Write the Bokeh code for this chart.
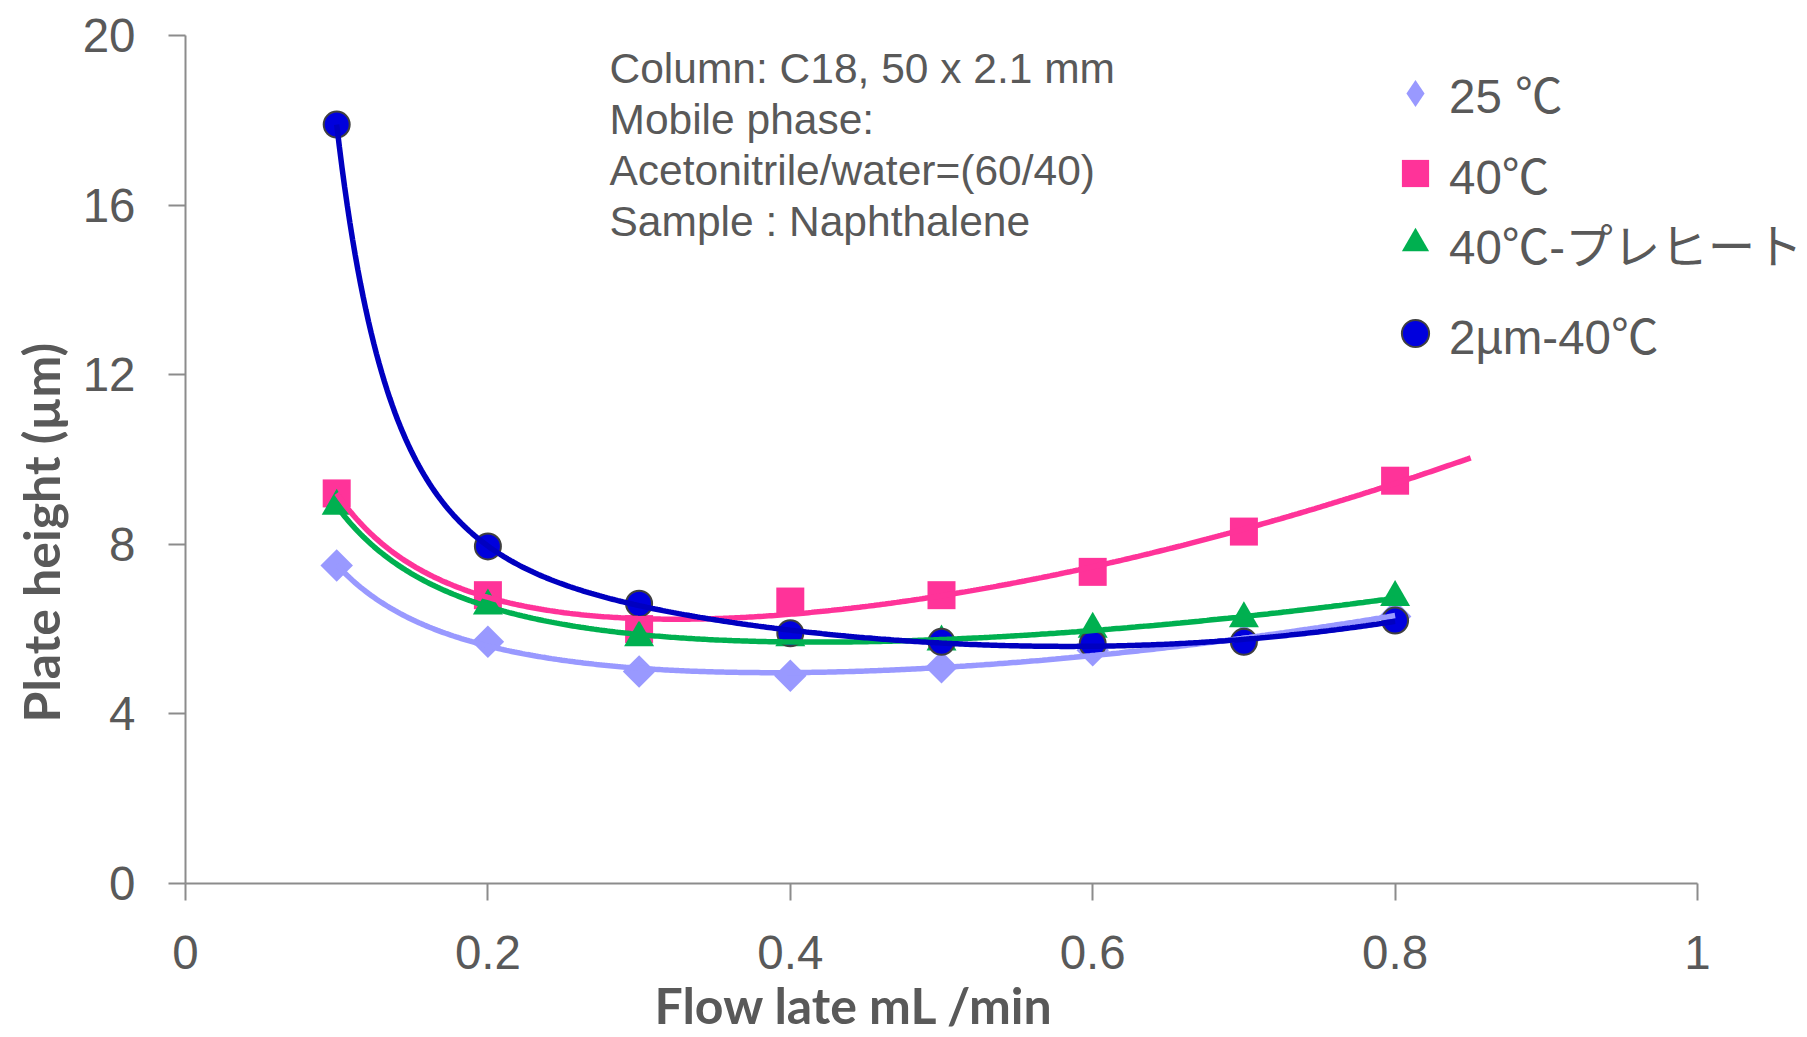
import numpy as np
from bokeh.plotting import figure
from bokeh.models import (Range1d, FixedTicker, NumeralTickFormatter, Label,
                          Legend, LegendItem, Title)
from bokeh.embed import file_html
from bokeh.resources import INLINE

# Flow rate (mL/min) and plate height (µm) for each condition
flow = [0.1, 0.2, 0.3, 0.4, 0.5, 0.6, 0.7, 0.8]
h_25c = [7.5, 5.7, 5.0, 4.9, 5.1, 5.5, 5.75, 6.3]
h_40c = [9.2, 6.8, 6.0, 6.65, 6.8, 7.35, 8.3, 9.5]
h_40c_preheat = [8.9, 6.55, 5.8, 5.8, 5.7, 6.0, 6.25, 6.75]
h_2um_40c = [17.9, 7.95, 6.6, 5.9, 5.7, 5.65, 5.7, 6.2]

series_names = ["25 ℃", "40℃", "40℃-プレヒート", "2µm-40℃"]
x_ticks = [0, 0.2, 0.4, 0.6, 0.8, 1]
y_ticks = [0, 4, 8, 12, 16, 20]
notes = ["Column: C18, 50 x 2.1 mm", "Mobile phase:",
         "Acetonitrile/water=(60/40)", "Sample : Naphthalene"]
x_title = "Flow late mL /min"
y_title = "Plate height (µm)"

TEXT = "#595959"
AXIS = "#8c8c8c"
FONT = "Liberation Sans"
LEGEND_FONT = "'Liberation Sans', 'Noto Sans CJK JP'"
TITLE_FONT = "Lato"

# plot area: x axis spans 0..1 over 1512 px; the frame runs on to the
# right edge of the canvas so the legend has room
FRAME_LEFT, AXIS_PX, WIDTH, HEIGHT = 185, 1512, 1807, 1037
FRAME_BOTTOM = HEIGHT - 154
x_end = (WIDTH - FRAME_LEFT) / AXIS_PX


def trend(xv, yv, inv_order, x_stop, n=400):
    """Least-squares trend curve: H = a + sum b_k/u^k + c*u + d*u^2."""
    xv = np.asarray(xv, dtype=float)
    yv = np.asarray(yv, dtype=float)

    def basis(x):
        cols = [np.ones_like(x)] + [x ** -k for k in range(1, inv_order + 1)] + [x, x ** 2]
        return np.column_stack(cols)

    coef, *_ = np.linalg.lstsq(basis(xv), yv, rcond=None)
    xs = np.linspace(xv.min(), x_stop, n)
    return xs, basis(xs) @ coef


p = figure(width=WIDTH, height=HEIGHT, output_backend="svg", toolbar_location=None,
           x_range=Range1d(0, x_end), y_range=Range1d(0, 20),
           min_border_left=FRAME_LEFT, min_border_right=0,
           min_border_top=35, min_border_bottom=154)
p.outline_line_color = None
p.grid.visible = False
p.background_fill_color = "white"
p.border_fill_color = "white"

for ax in (p.xaxis[0], p.yaxis[0]):
    ax.axis_line_color = AXIS
    ax.axis_line_width = 2
    ax.major_tick_line_color = AXIS
    ax.major_tick_line_width = 2
    ax.major_tick_in = 0
    ax.major_tick_out = 17
    ax.minor_tick_line_color = None
    ax.major_label_text_font = FONT
    ax.major_label_text_font_size = "47.5px"
    ax.major_label_text_color = TEXT

p.xaxis.ticker = FixedTicker(ticks=x_ticks)
p.yaxis.ticker = FixedTicker(ticks=y_ticks)
p.xaxis.bounds = (0, 1)
p.xaxis.formatter = NumeralTickFormatter(format="0.[0]")
p.xaxis.major_label_standoff = 35
p.yaxis.major_label_standoff = 33

# markers (the narrow diamond underneath only serves as the legend key)
r25_key = p.scatter(flow, h_25c, marker="diamond", size=30,
                    fill_color="#9999ff", line_color=None)
p.scatter(flow, h_25c, marker="square", angle=np.pi / 4, size=23,
          fill_color="#9999ff", line_color=None)
r40 = p.scatter(flow, h_40c, marker="square", size=28,
                fill_color="#ff3399", line_color=None)
r40p = p.scatter(flow, h_40c_preheat, marker="triangle", size=30,
                 fill_color="#00b050", line_color=None)
r2um = p.scatter(flow, h_2um_40c, marker="circle", size=26,
                 fill_color="#0000dd", line_color="#404040", line_width=2)

# trend curves
lw = 5.5
xs, ys = trend(flow, h_25c, 1, 0.8)
p.line(xs, ys, line_color="#9999ff", line_width=lw)
xs, ys = trend(flow, h_40c, 1, 0.85)
p.line(xs, ys, line_color="#ff3399", line_width=lw)
xs, ys = trend(flow, h_40c_preheat, 1, 0.8)
p.line(xs, ys, line_color="#00b050", line_width=lw)
xs, ys = trend(flow, h_2um_40c, 2, 0.8)
p.line(xs, ys, line_color="#0000c0", line_width=lw)

# legend, one block per entry (text centre heights in px from the top)
G = 68
legend_rows = [(r25_key, 95), (r40, 175.7), (r40p, 245.7), (r2um, 335.7)]
for name, (rend, text_y) in zip(series_names, legend_rows):
    lg = Legend(items=[LegendItem(label=name, renderers=[rend])],
                location=(1381 - FRAME_LEFT, FRAME_BOTTOM - text_y - 32),
                glyph_width=G, glyph_height=G, label_height=G, label_standoff=0,
                padding=0, margin=0, spacing=0, border_line_color=None,
                background_fill_alpha=0, label_text_font=LEGEND_FONT,
                label_text_font_size="47.5px", label_text_color=TEXT,
                label_text_baseline="middle")
    p.add_layout(lg)

# condition notes
for i, line in enumerate(notes):
    p.add_layout(Label(x=424, y=814.7 - 51 * i, x_units="screen", y_units="screen",
                       text=line, text_font=FONT, text_font_size="42.5px",
                       text_color=TEXT, text_align="left", text_baseline="middle"))

# axis titles
p.add_layout(Title(text=x_title, align="left", offset=469, standoff=3,
                   vertical_align="bottom", text_font=TITLE_FONT,
                   text_font_style="bold", text_font_size="50px",
                   text_color=TEXT), "below")
p.add_layout(Title(text=y_title, align="left", offset=161, standoff=15,
                   vertical_align="middle", text_font=TITLE_FONT,
                   text_font_style="bold", text_font_size="50px",
                   text_color=TEXT), "left")

open("out.html", "w").write(file_html(p, INLINE))
